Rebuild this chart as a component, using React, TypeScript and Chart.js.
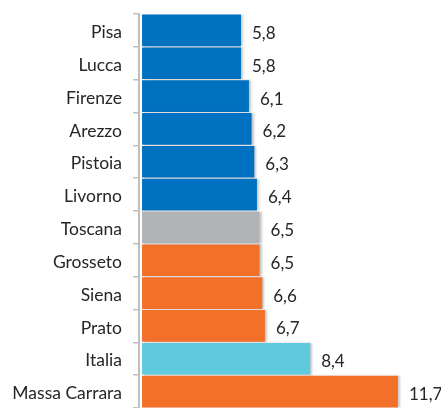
import React, { useEffect, useRef } from "react";
import { Chart, registerables } from "chart.js";

Chart.register(...registerables);

const categories = [
  "Pisa",
  "Lucca",
  "Firenze",
  "Arezzo",
  "Pistoia",
  "Livorno",
  "Toscana",
  "Grosseto",
  "Siena",
  "Prato",
  "Italia",
  "Massa Carrara",
];
const values = [5.8, 5.8, 6.1, 6.2, 6.3, 6.4, 6.5, 6.5, 6.6, 6.7, 8.4, 11.7];
const BLUE = "#0070C0";
const GRAY = "#B2B3B7";
const ORANGE = "#F37029";
const CYAN = "#5FCADD";
const barColors = [BLUE, BLUE, BLUE, BLUE, BLUE, BLUE, GRAY, ORANGE, ORANGE, ORANGE, CYAN, ORANGE];

const FONT = "Lato, 'Open Sans', sans-serif";
const TEXT = "#262626";

export default function App() {
  const ref = useRef<HTMLCanvasElement>(null);
  useEffect(() => {
    if (!ref.current) return;
    const shadowPlugin = {
      id: "shadow",
      beforeDatasetsDraw(chart: any) {
        const ctx = chart.ctx;
        ctx.save();
        ctx.shadowColor = "rgba(0,0,0,0.22)";
        ctx.shadowOffsetX = 2;
        ctx.shadowOffsetY = 0;
        ctx.shadowBlur = 2;
      },
      afterDatasetsDraw(chart: any) {
        chart.ctx.restore();
      },
    };
    const labelPlugin = {
      id: "valueLabels",
      afterDatasetsDraw(chart: any) {
        const ctx = chart.ctx;
        const meta = chart.getDatasetMeta(0);
        ctx.save();
        ctx.font = `17px ${FONT}`;
        ctx.fillStyle = TEXT;
        ctx.textAlign = "left";
        ctx.textBaseline = "middle";
        meta.data.forEach((bar: any, i: number) => {
          const txt = values[i].toFixed(1).replace(".", ",");
          ctx.fillText(txt, bar.x + 11, bar.y + 3);
        });
        ctx.restore();
      },
    };
    const chart = new Chart(ref.current, {
      type: "bar",
      data: {
        labels: categories,
        datasets: [
          {
            data: values,
            backgroundColor: barColors,
            base: 2.08,
            categoryPercentage: 1,
            barPercentage: 0.965,
            borderWidth: 0,
          } as any,
        ],
      },
      options: {
        indexAxis: "y",
        animation: false,
        responsive: false,
        maintainAspectRatio: false,
        layout: { padding: { top: 14, bottom: 0, left: 0, right: 0 } },
        plugins: {
          legend: { display: false },
          tooltip: { enabled: false },
        },
        scales: {
          x: {
            display: false,
            min: 1.966,
            max: 13.32,
          },
          y: {
            afterFit(scale: any) {
              scale.width = 139;
              scale.paddingTop = 0;
              scale.paddingBottom = 0;
            },
            grid: {
              drawOnChartArea: false,
              drawTicks: true,
              tickLength: 6,
              color: "#BFBFBF",
              lineWidth: 1.5,
              offset: true,
            },
            border: { display: true, color: "#BFBFBF", width: 2 },
            ticks: {
              padding: 11,
              labelOffset: 2,
              color: TEXT,
              font: { family: FONT, size: 17.5 },
            },
          },
        },
      },
      plugins: [shadowPlugin, labelPlugin],
    });
    return () => chart.destroy();
  }, []);
  return (
    <div style={{ position: "fixed", top: 0, left: 0, width: 441, height: 408, overflow: "hidden", background: "#fff" }}>
      <canvas ref={ref} width={441} height={408} style={{ display: "block" }} />
    </div>
  );
}
